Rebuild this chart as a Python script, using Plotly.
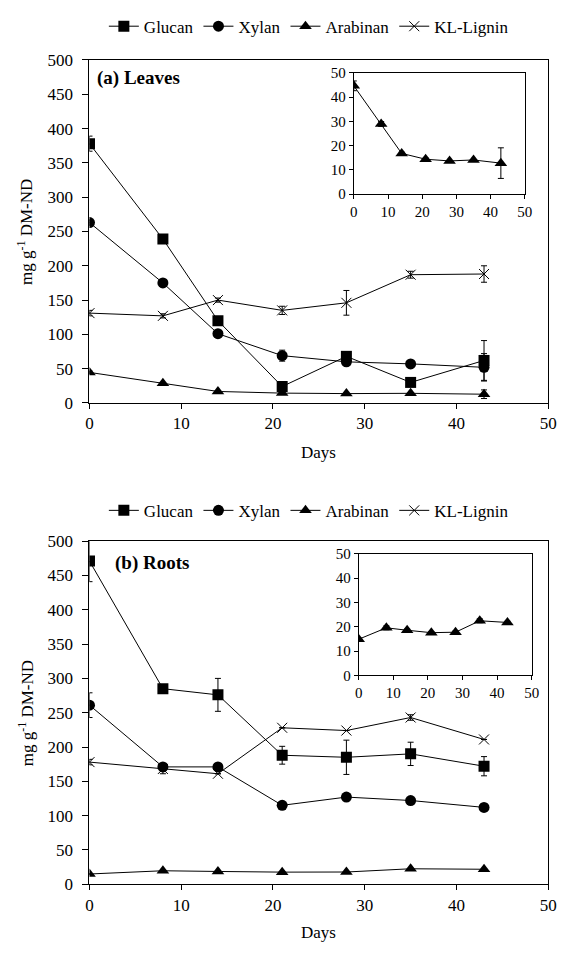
import plotly.graph_objects as go

# ---------------- data ----------------
days = [0, 8, 14, 21, 28, 35, 43]
series_names = ["Glucan", "Xylan", "Arabinan", "KL-Lignin"]

leaves_glucan = [378, 239, 120, 24, 68, 30, 62]
leaves_glucan_err = [11, 0, 0, 0, 0, 0, 29]
leaves_xylan = [263, 175, 101, 69, 60, 57, 52]
leaves_xylan_err = [4, 0, 0, 8, 0, 0, 20]
leaves_arabinan = [44.6, 28.9, 16.8, 14.4, 13.7, 14.1, 12.8]
leaves_arabinan_err = [2, 1, 0.5, 0.5, 0, 0, 6.3]
leaves_lignin = [131, 127, 150, 135, 146, 187, 188]
leaves_lignin_err = [4, 3, 3, 6, 18, 5, 12]

roots_glucan = [471, 285, 276, 188, 185, 190, 172]
roots_glucan_err = [30, 0, 24, 13, 25, 17, 14]
roots_xylan = [261, 171, 171, 115, 127, 122, 112]
roots_xylan_err = [18, 0, 0, 0, 0, 0, 0]
roots_arabinan = [14.9, 19.6, 18.6, 17.6, 17.8, 22.5, 21.8]
roots_arabinan_err = [0.5, 0.8, 0.5, 0.5, 0.5, 0.8, 0.5]
roots_lignin = [178, 168, 161, 228, 224, 243, 211]
roots_lignin_err = [4, 7, 0, 0, 0, 4, 0]

main_yticks = list(range(0, 501, 50))
xticks = list(range(0, 51, 10))
inset_yticks = list(range(0, 51, 10))

# ---------------- styling ----------------
W, H = 568, 954
FONT = "Liberation Serif"
BLACK = "#000000"

def px_x(a, b):
    return [a / W, b / W]

def px_y(top, bottom):
    return [(H - bottom) / H, (H - top) / H]

symbols = {"Glucan": "square", "Xylan": "circle", "Arabinan": "triangle-up", "KL-Lignin": "x-thin"}
msize = {"Glucan": 11, "Xylan": 11, "Arabinan": 11, "KL-Lignin": 10}

fig = go.Figure()

def add_series(name, y, err, xa, ya, legend, showlegend):
    sym = symbols[name]
    marker = dict(symbol=sym, size=msize[name], color=BLACK,
                  line=dict(color=BLACK, width=1 if sym == "x-thin" else 0))
    fig.add_trace(go.Scatter(
        x=days, y=y, name=name, mode="lines+markers",
        line=dict(color=BLACK, width=1), marker=marker,
        error_y=dict(type="data", array=err, visible=True, color=BLACK,
                     thickness=1, width=3),
        xaxis=xa, yaxis=ya, legend=legend, showlegend=showlegend,
    ))

leaves = {"Glucan": (leaves_glucan, leaves_glucan_err),
          "Xylan": (leaves_xylan, leaves_xylan_err),
          "Arabinan": (leaves_arabinan, leaves_arabinan_err),
          "KL-Lignin": (leaves_lignin, leaves_lignin_err)}
roots = {"Glucan": (roots_glucan, roots_glucan_err),
         "Xylan": (roots_xylan, roots_xylan_err),
         "Arabinan": (roots_arabinan, roots_arabinan_err),
         "KL-Lignin": (roots_lignin, roots_lignin_err)}

for n in series_names:
    add_series(n, leaves[n][0], leaves[n][1], "x", "y", "legend", True)
for n in series_names:
    add_series(n, roots[n][0], roots[n][1], "x2", "y2", "legend2", True)
add_series("Arabinan", leaves_arabinan, leaves_arabinan_err, "x3", "y3", "legend", False)
add_series("Arabinan", roots_arabinan, roots_arabinan_err, "x4", "y4", "legend2", False)

tickfont = dict(family=FONT, size=17, color=BLACK)
insetfont = dict(family=FONT, size=15, color=BLACK)

def axis_common(font, dom, rng, tickvals, ticklen):
    return dict(domain=dom, range=rng, tickvals=tickvals, showgrid=False, zeroline=False,
                showline=True, linecolor=BLACK, linewidth=1, mirror=True,
                ticks="outside", ticklen=ticklen, tickcolor=BLACK, tickwidth=1,
                tickfont=font)

main_x_dom = px_x(87.5, 557)
top_y_dom = px_y(52, 402)
bot_y_dom = px_y(543, 893)
inset1_x = px_x(358, 533)
inset1_y = px_y(65, 189)
inset2_x = px_x(363, 540)
inset2_y = px_y(556, 680)

fig.update_layout(
    width=W, height=H, margin=dict(l=0, r=0, t=0, b=0),
    paper_bgcolor="white", plot_bgcolor="white",
    font=dict(family=FONT, color=BLACK),
    xaxis=dict(**axis_common(tickfont, main_x_dom, [0, 50], xticks, 5), anchor="y"),
    yaxis=dict(**axis_common(tickfont, top_y_dom, [0, 500], main_yticks, 6), anchor="x", ticklabelstandoff=6),
    xaxis2=dict(**axis_common(tickfont, main_x_dom, [0, 50], xticks, 5), anchor="y2"),
    yaxis2=dict(**axis_common(tickfont, bot_y_dom, [0, 500], main_yticks, 6), anchor="x2", ticklabelstandoff=6),
    xaxis3=dict(**axis_common(insetfont, inset1_x, [0, 50], xticks, 4), anchor="y3"),
    yaxis3=dict(**axis_common(insetfont, inset1_y, [0, 50], inset_yticks, 4), anchor="x3"),
    xaxis4=dict(**axis_common(insetfont, inset2_x, [0, 50], xticks, 4), anchor="y4"),
    yaxis4=dict(**axis_common(insetfont, inset2_y, [0, 50], inset_yticks, 4), anchor="x4"),
    legend=dict(orientation="h", x=312 / W, xanchor="center", y=(H - 18) / H, yanchor="middle",
                font=dict(family=FONT, size=17, color=BLACK), itemwidth=30,
                bgcolor="rgba(0,0,0,0)"),
    legend2=dict(orientation="h", x=312 / W, xanchor="center", y=(H - 512) / H, yanchor="middle",
                 font=dict(family=FONT, size=17, color=BLACK), itemwidth=30,
                 bgcolor="rgba(0,0,0,0)"),
    showlegend=True,
)

ytitle = "mg g<sup>-1</sup> DM-ND"
annos = [
    dict(text=ytitle, x=22 / W, y=(H - 227) / H, textangle=-90, font=dict(size=17)),
    dict(text=ytitle, x=22 / W, y=(H - 718) / H, textangle=-90, font=dict(size=17)),
    dict(text="Days", x=322 / W, y=(H - 453) / H, font=dict(size=17)),
    dict(text="Days", x=322 / W, y=(H - 942) / H, font=dict(size=17)),
    dict(text="<b>(a) Leaves</b>", x=93 / W, y=(H - 70) / H, xanchor="left", font=dict(size=19)),
    dict(text="<b>(b) Roots</b>", x=112 / W, y=(H - 565) / H, xanchor="left", font=dict(size=19)),
]
for a in annos:
    a.update(xref="paper", yref="paper", showarrow=False)
    a.setdefault("xanchor", "center")
    a["yanchor"] = "middle"
    a["font"].update(family=FONT, color=BLACK)
fig.update_layout(annotations=annos)

fig.write_html("out.html")
